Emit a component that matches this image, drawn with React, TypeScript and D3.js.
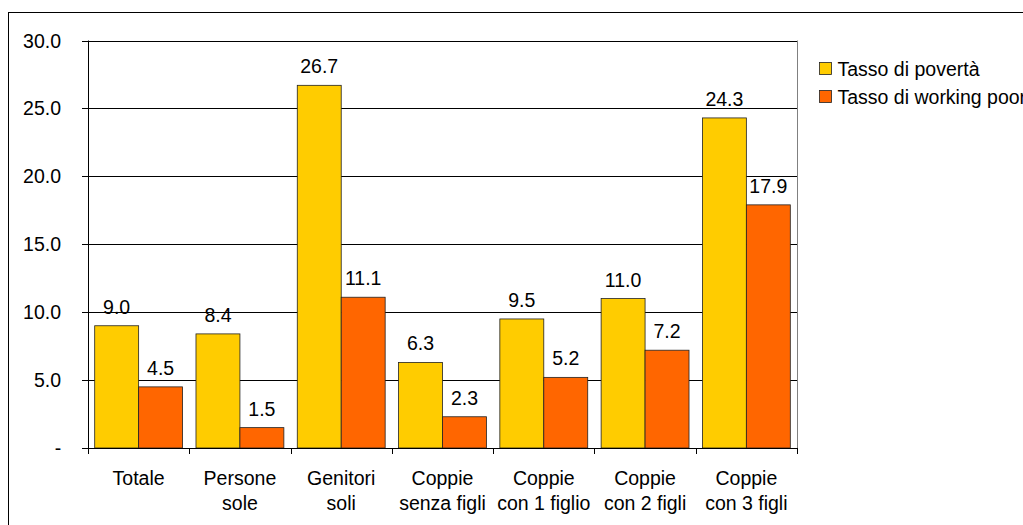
import * as d3 from "d3"
import { useEffect, useRef } from "react"

const categories = [
  ["Totale"],
  ["Persone", "sole"],
  ["Genitori", "soli"],
  ["Coppie", "senza figli"],
  ["Coppie", "con 1 figlio"],
  ["Coppie", "con 2 figli"],
  ["Coppie", "con 3 figli"],
]
const povertyRate = [9.0, 8.4, 26.7, 6.3, 9.5, 11.0, 24.3]
const workingPoorRate = [4.5, 1.5, 11.1, 2.3, 5.2, 7.2, 17.9]
const seriesNames = ["Tasso di povertà", "Tasso di working poor"]
const seriesColors = ["#FFCC00", "#FF6600"]
const yTicks = [0, 5, 10, 15, 20, 25, 30]

const WIDTH = 1023
const HEIGHT = 525
const FONT = "'Liberation Sans', Arial, sans-serif"
const FS = 19.5

const App = () => {
  const svgRef = useRef<SVGSVGElement>(null)

  useEffect(() => {
    if (!svgRef.current) return
    d3.select(svgRef.current).selectAll("*").remove()

    const svg = d3
      .select(svgRef.current)
      .attr("width", WIDTH)
      .attr("height", HEIGHT)
      .append("g")

    const PLOT = { left: 88, right: 797, top: 40.5, bottom: 448 }

    // outer chart border
    svg
      .append("rect")
      .attr("x", 8.5)
      .attr("y", 12.5)
      .attr("width", 1100)
      .attr("height", 600)
      .attr("fill", "#fff")
      .attr("stroke", "#000")
      .attr("stroke-width", 1)

    const x0 = d3
      .scaleBand<number>()
      .domain(d3.range(categories.length))
      .range([PLOT.left, PLOT.right])

    // bars inside a category, ~6.7px gap each side
    const x1 = d3
      .scaleBand<number>()
      .domain([0, 1])
      .range([6.7, x0.bandwidth() - 6.7])

    const y = d3
      .scaleLinear()
      .domain([0, 30])
      .range([PLOT.bottom, PLOT.top])

    // plot right border
    svg
      .append("line")
      .attr("x1", PLOT.right + 0.5)
      .attr("x2", PLOT.right + 0.5)
      .attr("y1", PLOT.top)
      .attr("y2", PLOT.bottom)
      .attr("stroke", "#808080")
      .attr("stroke-width", 1)

    // gridlines
    svg
      .selectAll("line.grid")
      .data(yTicks.filter((d) => d > 0))
      .join("line")
      .attr("class", "grid")
      .attr("x1", PLOT.left - 6)
      .attr("x2", PLOT.right)
      .attr("y1", (d) => Math.round(y(d)) + 0.5)
      .attr("y2", (d) => Math.round(y(d)) + 0.5)
      .attr("stroke", "#000")
      .attr("stroke-width", 1)

    // y tick labels
    svg
      .selectAll("text.ytick")
      .data(yTicks)
      .join("text")
      .attr("class", "ytick")
      .attr("x", (d) => (d === 0 ? 58 : 61))
      .attr("y", (d) => y(d) + 7)
      .attr("text-anchor", (d) => (d === 0 ? "middle" : "end"))
      .attr("font-family", FONT)
      .attr("font-size", FS)
      .attr("fill", "#000")
      .text((d) => (d === 0 ? "-" : d.toFixed(1)))

    // bars
    const series = [povertyRate, workingPoorRate]
    series.forEach((values, si) => {
      svg
        .append("g")
        .selectAll("rect")
        .data(values)
        .join("rect")
        .attr("x", (_, i) => (x0(i) ?? 0) + (x1(si) ?? 0))
        .attr("y", (d) => y(d))
        .attr("width", x1.bandwidth())
        .attr("height", (d) => y(0) - y(d))
        .attr("fill", seriesColors[si])
        .attr("stroke", "#222")
        .attr("stroke-width", 0.8)

      svg
        .append("g")
        .selectAll("text")
        .data(values)
        .join("text")
        .attr("x", (_, i) => (x0(i) ?? 0) + (x1(si) ?? 0) + x1.bandwidth() / 2)
        .attr("y", (d) => y(d) - 12)
        .attr("text-anchor", "middle")
        .attr("font-family", FONT)
        .attr("font-size", FS)
        .attr("fill", "#000")
        .text((d) => d.toFixed(1))
    })

    // y axis
    svg
      .append("line")
      .attr("x1", PLOT.left + 0.5)
      .attr("x2", PLOT.left + 0.5)
      .attr("y1", PLOT.top)
      .attr("y2", PLOT.bottom)
      .attr("stroke", "#000")

    // x axis
    svg
      .append("line")
      .attr("x1", PLOT.left - 6)
      .attr("x2", PLOT.right)
      .attr("y1", PLOT.bottom + 0.5)
      .attr("y2", PLOT.bottom + 0.5)
      .attr("stroke", "#000")

    svg
      .selectAll("line.xtick")
      .data(d3.range(categories.length + 1))
      .join("line")
      .attr("class", "xtick")
      .attr("x1", (i) => Math.round(PLOT.left + i * x0.step()) + 0.5)
      .attr("x2", (i) => Math.round(PLOT.left + i * x0.step()) + 0.5)
      .attr("y1", PLOT.bottom)
      .attr("y2", PLOT.bottom + 6)
      .attr("stroke", "#000")

    // x labels
    const xl = svg
      .selectAll("text.xlab")
      .data(categories)
      .join("text")
      .attr("class", "xlab")
      .attr("x", (_, i) => (x0(i) ?? 0) + x0.bandwidth() / 2)
      .attr("y", 485)
      .attr("text-anchor", "middle")
      .attr("font-family", FONT)
      .attr("font-size", FS)
      .attr("fill", "#000")
    xl.selectAll("tspan")
      .data((d) => d)
      .join("tspan")
      .attr("x", function () {
        return (this.parentNode as SVGTextElement).getAttribute("x")
      })
      .attr("dy", (_, j) => (j === 0 ? 0 : 25))
      .text((d) => d)

    // legend
    const legend = svg
      .append("g")
      .selectAll("g")
      .data(seriesNames)
      .join("g")
      .attr("transform", (_, i) => `translate(819.5, ${62.5 + i * 28})`)
    legend
      .append("rect")
      .attr("width", 12)
      .attr("height", 12)
      .attr("fill", (_, i) => seriesColors[i])
      .attr("stroke", "#222")
      .attr("stroke-width", 0.8)
    legend
      .append("text")
      .attr("x", 18)
      .attr("y", 13)
      .attr("font-family", FONT)
      .attr("font-size", FS)
      .attr("fill", "#000")
      .text((d) => d)
  }, [])

  return (
    <svg
      ref={svgRef}
      style={{
        position: "absolute",
        left: 0,
        top: 0,
        width: WIDTH,
        height: HEIGHT,
        display: "block",
        overflow: "hidden",
      }}
    />
  )
}

export default App
